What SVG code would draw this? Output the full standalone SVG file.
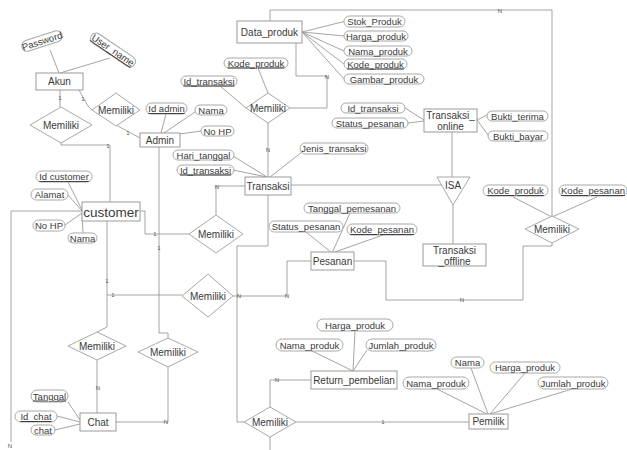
<svg xmlns="http://www.w3.org/2000/svg" width="627" height="450" viewBox="0 0 627 450">
<style>
text{font-family:"Liberation Sans",Arial,sans-serif;font-size:9.5px;fill:#3a3a3a;text-anchor:middle}
.e rect{fill:#fff;stroke:#9a9a9a;stroke-width:1}
.a rect{fill:#fff;stroke:#a8a8a8;stroke-width:1}
.r polygon{fill:#fff;stroke:#a8a8a8;stroke-width:1}
.u{text-decoration:underline}
.big{font-size:13.5px}
.ent{font-size:10px}
#connectors path{fill:none;stroke:#9a9a9a;stroke-width:0.9}
.k{font-size:6px;fill:#555}
</style>
<rect width="627" height="450" fill="#fff"/>
<g id="connectors">
<!-- Akun -->
<path d="M50,50 L59,73"/>
<path d="M110,58 L60,73"/>
<path d="M60,90 L60,107"/>
<path d="M79,90 L88,106 L92,110"/>
<path d="M116,125 L140,138"/>
<path d="M61,143 L61,145 L110,145 L110,202"/>
<!-- Admin -->
<path d="M166,114 L161,133"/>
<path d="M195,112 L164,133"/>
<path d="M201,131 L180,134"/>
<path d="M159,146 L159,333 L168,333 L168,338"/>
<!-- Data_produk -->
<path d="M302,32 L344,21.5 M302,32 L344,36 M302,32 L344,51 M302,32 L344,64 M302,32 L344,79"/>
<path d="M296,43 L296,76 L327,76 L327,108 L290,108"/>
<path d="M270,21 L270,10 L552,10 L552,216"/>
<path d="M258,68 L268,93"/>
<path d="M220,86 L246,108"/>
<path d="M268,123 L268,177"/>
<!-- Transaksi -->
<path d="M233,156 L267,177 M233,170 L267,177 M302,152 L270,177"/>
<path d="M216,215 L216,186 L245,186"/>
<path d="M291,185 L442,185"/>
<path d="M268,195 L268,246 L237,246 L237,422 L244,422"/>
<!-- Transaksi online / ISA -->
<path d="M405,108 L424,120 M408,123 L424,121"/>
<path d="M477,120 L487,115 M477,120 L488,135"/>
<path d="M452,132 L452,177"/>
<path d="M453,205 L453,244"/>
<!-- customer -->
<path d="M68,182 L82,210 M68,195 L82,211 M65,225 L82,213 M83,233 L82,214"/>
<path d="M140,211 L145,211 L145,234 L189,234"/>
<path d="M107,221 L107,327 L97,332"/>
<path d="M107,295 L182,295"/>
<path d="M82,211 L11,211 L11,442"/>
<!-- Pesanan -->
<path d="M306,232 L332,253 M350,213 L332,253 M383,235 L332,253"/>
<path d="M233,296 L287,296 L287,261 L311,261"/>
<path d="M354,261 L386,261 L386,300 L523,300 L523,246 L552,246 L552,243"/>
<path d="M513,197 L552,217 M597,197 L552,217"/>
<!-- Chat -->
<path d="M97,360 L97,413"/>
<path d="M116,422 L168,422 L168,367"/>
<path d="M68,402 L80,420 M57,416 L80,422 M55,430 L80,424"/>
<!-- Return / Pemilik -->
<path d="M270,407 L270,380 L311,380"/>
<path d="M296,422 L469,422"/>
<path d="M270,437 L270,450"/>
<path d="M355,331 L353,371 M310,350 L353,371 M367,350 L353,371"/>
<path d="M471,368 L488,414 M525,373 L490,414 M437,389 L487,414 M572,389 L490,414"/>
<!-- cardinality -->
<text class="k" x="60" y="100">1</text>
<text class="k" x="83" y="101">1</text>
<text class="k" x="128" y="135">1</text>
<text class="k" x="108" y="148">1</text>
<text class="k" x="155" y="236">1</text>
<text class="k" x="159" y="250">1</text>
<text class="k" x="107" y="283">1</text>
<text class="k" x="113" y="297">1</text>
<text class="k" x="268" y="152">N</text>
<text class="k" x="327" y="79">N</text>
<text class="k" x="500" y="13">N</text>
<text class="k" x="217" y="189">N</text>
<text class="k" x="239" y="298">N</text>
<text class="k" x="287" y="298">N</text>
<text class="k" x="462" y="302">N</text>
<text class="k" x="98" y="390">N</text>
<text class="k" x="166" y="424">N</text>
<text class="k" x="277" y="382">N</text>
<text class="k" x="383" y="424">1</text>
<text class="k" x="10" y="448">N</text>
</g>
<!-- entities -->
<g id="akun" class="e"><rect x="36" y="73" width="47" height="17"/><text class="ent" x="59.5" y="85">Akun</text></g>
<g id="admin" class="e"><rect x="140" y="133" width="40" height="14"/><text class="ent" x="160" y="144">Admin</text></g>
<g id="data_produk" class="e"><rect x="237" y="21" width="65" height="22"/><text class="ent" x="269.5" y="35.5">Data_produk</text></g>
<g id="transaksi" class="e"><rect x="245" y="177" width="46" height="18"/><text class="ent" x="268" y="189.5">Transaksi</text></g>
<g id="transaksi_online" class="e"><rect x="424" y="109" width="53" height="23"/><text class="ent" x="450.5" y="119">Transaksi_</text><text class="ent" x="450.5" y="130">online</text></g>
<g id="transaksi_offline" class="e"><rect x="423" y="244" width="63" height="22"/><text class="ent" x="454.5" y="254">Transaksi</text><text class="ent" x="454.5" y="265">_offline</text></g>
<g id="pesanan" class="e"><rect x="311" y="252" width="43" height="18"/><text class="ent" x="332.5" y="264.5">Pesanan</text></g>
<g id="customer" class="e"><rect x="82" y="202" width="58" height="19"/><text class="big" x="111" y="216.5">customer</text></g>
<g id="chat" class="e"><rect x="80" y="413" width="36" height="18"/><text class="ent" x="98" y="425.5">Chat</text></g>
<g id="return_pembelian" class="e"><rect x="311" y="371" width="86" height="18"/><text class="ent" x="354" y="383.5">Return_pembelian</text></g>
<g id="pemilik" class="e"><rect x="469" y="414" width="39" height="15"/><text class="ent" x="488.5" y="425">Pemilik</text></g>
<!-- relationships -->
<g id="rel_akun_customer" class="r"><polygon points="30,125 61,107 92,125 61,143"/><text class="ent" x="61" y="128.5">Memiliki</text></g>
<g id="rel_akun_admin" class="r"><polygon points="92,110 116,93 140,110 116,126"/><text class="ent" x="116" y="113.5">Memiliki</text></g>
<g id="rel_produk_transaksi" class="r"><polygon points="246,108 268,93 290,108 268,123"/><text class="ent" x="268" y="111.5">Memiliki</text></g>
<g id="rel_customer_transaksi" class="r"><polygon points="189,234 216,215 243,234 216,253"/><text class="ent" x="216" y="237.5">Memiliki</text></g>
<g id="rel_customer_pesanan" class="r"><polygon points="182,296 208,274 233,296 208,317"/><text class="ent" x="208" y="299.5">Memiliki</text></g>
<g id="rel_produk_pesanan" class="r"><polygon points="525,229 552,216 579,229 552,243"/><text class="ent" x="552" y="232.5">Memiliki</text></g>
<g id="rel_customer_chat" class="r"><polygon points="68,346 97,332 126,346 97,360"/><text class="ent" x="97" y="349.5">Memiliki</text></g>
<g id="rel_admin_chat" class="r"><polygon points="138,352 168,338 198,352 168,367"/><text class="ent" x="168" y="355.5">Memiliki</text></g>
<g id="rel_return_pemilik" class="r"><polygon points="244,422 270,407 296,422 270,437"/><text class="ent" x="270" y="425.5">Memiliki</text></g>
<g id="isa" class="r"><polygon points="437,177 470,177 453,205"/><text class="ent" x="453" y="189">ISA</text></g>
<!-- attributes -->
<g id="att_password" class="a" transform="translate(42,41) rotate(-18)"><rect x="-21" y="-5.5" width="42" height="11" rx="5.5"/><text x="0" y="3.5">Password</text></g>
<g id="att_user_name" class="a" transform="translate(113,50) rotate(34)"><rect x="-26" y="-5.5" width="52" height="11" rx="5.5"/><text class="u" x="0" y="3.5">User_name</text></g>
<g id="att_id_transaksi_1" class="a"><rect x="181" y="76" width="56" height="10" rx="5"/><text class="u" x="209" y="84.5">Id_transaksi</text></g>
<g id="att_kode_produk_1" class="a"><rect x="224" y="58" width="64" height="10" rx="5"/><text class="u" x="256" y="66.5">Kode_produk</text></g>
<g id="att_id_admin" class="a"><rect x="146" y="103" width="41" height="11" rx="5.5"/><text class="u" x="166.5" y="112">Id admin</text></g>
<g id="att_nama_admin" class="a"><rect x="195" y="105" width="32" height="10" rx="5"/><text x="211" y="113.5">Nama</text></g>
<g id="att_nohp_admin" class="a"><rect x="201" y="126" width="33" height="10" rx="5"/><text x="217.5" y="134.5">No HP</text></g>
<g id="att_hari_tanggal" class="a"><rect x="173" y="150" width="61" height="10" rx="5"/><text x="203.5" y="158.5">Hari_tanggal</text></g>
<g id="att_id_transaksi_2" class="a"><rect x="177" y="165" width="57" height="10" rx="5"/><text class="u" x="205.5" y="173.5">Id_transaksi</text></g>
<g id="att_jenis_transaksi" class="a"><rect x="300" y="143" width="68" height="11" rx="5.5"/><text x="334" y="152">Jenis_transaksi</text></g>
<g id="att_stok_produk" class="a"><rect x="344" y="16" width="61" height="11" rx="5.5"/><text x="374.5" y="25">Stok_Produk</text></g>
<g id="att_harga_produk_1" class="a"><rect x="344" y="31" width="64" height="10" rx="5"/><text x="376" y="39.5">Harga_produk</text></g>
<g id="att_nama_produk_1" class="a"><rect x="344" y="46" width="68" height="10" rx="5"/><text x="378" y="54.5">Nama_produk</text></g>
<g id="att_kode_produk_2" class="a"><rect x="344" y="59" width="63" height="10" rx="5"/><text class="u" x="375.5" y="67.5">Kode_produk</text></g>
<g id="att_gambar_produk" class="a"><rect x="344" y="74" width="80" height="10" rx="5"/><text x="384" y="82.5">Gambar_produk</text></g>
<g id="att_id_transaksi_3" class="a"><rect x="341" y="103" width="64" height="10" rx="5"/><text x="373" y="111.5">Id_transaksi</text></g>
<g id="att_status_pesanan_1" class="a"><rect x="332" y="118" width="76" height="10" rx="5"/><text x="370" y="126.5">Status_pesanan</text></g>
<g id="att_bukti_terima" class="a"><rect x="487" y="111" width="61" height="10" rx="5"/><text x="517.5" y="119.5">Bukti_terima</text></g>
<g id="att_bukti_bayar" class="a"><rect x="488" y="131" width="60" height="10" rx="5"/><text x="518" y="139.5">Bukti_bayar</text></g>
<g id="att_id_customer" class="a"><rect x="36" y="171" width="56" height="11" rx="5.5"/><text class="u" x="64" y="180">Id customer</text></g>
<g id="att_alamat" class="a"><rect x="31" y="189" width="37" height="11" rx="5.5"/><text x="49.5" y="198">Alamat</text></g>
<g id="att_nohp_customer" class="a"><rect x="33" y="220" width="32" height="11" rx="5.5"/><text x="49" y="229">No HP</text></g>
<g id="att_nama_customer" class="a"><rect x="68" y="233" width="29" height="10" rx="5"/><text x="82.5" y="241.5">Nama</text></g>
<g id="att_tanggal_pemesanan" class="a"><rect x="304" y="203" width="96" height="10" rx="5"/><text x="352" y="211.5">Tanggal_pemesanan</text></g>
<g id="att_status_pesanan_2" class="a"><rect x="269" y="221" width="74" height="11" rx="5.5"/><text x="306" y="230">Status_pesanan</text></g>
<g id="att_kode_pesanan_1" class="a"><rect x="347" y="224" width="70" height="11" rx="5.5"/><text class="u" x="382" y="233">Kode_pesanan</text></g>
<g id="att_kode_produk_3" class="a"><rect x="483" y="185" width="65" height="11" rx="5.5"/><text class="u" x="515.5" y="194">Kode_produk</text></g>
<g id="att_kode_pesanan_2" class="a"><rect x="559" y="185" width="68" height="11" rx="5.5"/><text class="u" x="593" y="194">Kode_pesanan</text></g>
<g id="att_tanggal" class="a"><rect x="31" y="390" width="37" height="12" rx="6"/><text class="u" x="49.5" y="399.5">Tanggal</text></g>
<g id="att_id_chat" class="a"><rect x="15" y="411" width="42" height="11" rx="5.5"/><text class="u" x="36" y="420">Id_chat</text></g>
<g id="att_chat" class="a"><rect x="31" y="425" width="24" height="10" rx="5"/><text x="43" y="433.5">chat</text></g>
<g id="att_harga_produk_2" class="a"><rect x="317" y="319" width="76" height="12" rx="6"/><text x="355" y="328.5">Harga_produk</text></g>
<g id="att_nama_produk_2" class="a"><rect x="276" y="339" width="67" height="12" rx="6"/><text x="309.5" y="348.5">Nama_produk</text></g>
<g id="att_jumlah_produk_1" class="a"><rect x="366" y="339" width="70" height="12" rx="6"/><text x="401" y="348.5">Jumlah_produk</text></g>
<g id="att_nama_pemilik" class="a"><rect x="451" y="357" width="33" height="11" rx="5.5"/><text x="467.5" y="366">Nama</text></g>
<g id="att_harga_produk_3" class="a"><rect x="490" y="362" width="70" height="11" rx="5.5"/><text x="525" y="371">Harga_produk</text></g>
<g id="att_nama_produk_3" class="a"><rect x="403" y="377" width="66" height="12" rx="6"/><text x="436" y="386.5">Nama_produk</text></g>
<g id="att_jumlah_produk_2" class="a"><rect x="538" y="377" width="70" height="12" rx="6"/><text x="573" y="386.5">Jumlah_produk</text></g>
</svg>
